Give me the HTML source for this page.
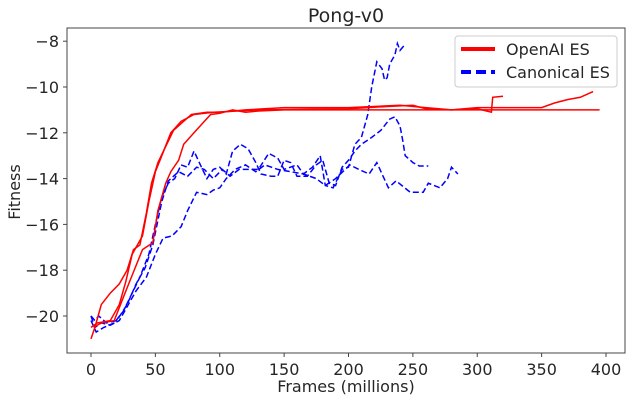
<!DOCTYPE html>
<html><head><meta charset="utf-8"><style>
html,body{margin:0;padding:0;background:#fff;}
svg text{font-family:"DejaVu Sans","Liberation Sans",sans-serif;fill:#262626;}
</style></head><body>
<svg id="chart" width="632" height="402" viewBox="0 0 632 402">
<g id="grid"></g>
<g id="series"></g>
<rect x="67" y="28" width="558" height="325" fill="none" stroke="#444" stroke-width="1"/>
<g id="axes"></g>
<text x="346" y="22" text-anchor="middle" font-size="19">Pong-v0</text>
<text x="346" y="392" text-anchor="middle" font-size="16">Frames (millions)</text>
<text transform="translate(20,192) rotate(-90)" text-anchor="middle" font-size="16">Fitness</text>
<g>
<rect x="455" y="36" width="162" height="51" rx="3" fill="#fff" fill-opacity="0.8" stroke="#ccc"/>
<line x1="461" y1="49" x2="495" y2="49" stroke="#ff0000" stroke-width="4"/>
<text x="506" y="55" font-size="16">OpenAI ES</text>
<line x1="461" y1="72" x2="495" y2="72" stroke="#0000ff" stroke-width="4" stroke-dasharray="10,5"/>
<text x="506" y="78" font-size="16">Canonical ES</text>
</g>
</svg>
<script>
const xTicks=[0,50,100,150,200,250,300,350,400];
const yTicks=[-20,-18,-16,-14,-12,-10,-8];
const red1=[[0,-21],[3,-20.5],[8,-19.5],[15,-19],[22,-18.6],[28,-18],[33,-17.1],[38,-16.9],[43,-15.5],[47,-14.2],[52,-13.3],[58,-12.6],[64,-11.9],[70,-11.6],[78,-11.2],[90,-11.1],[100,-11.1],[120,-11.0],[150,-10.9],[200,-10.9],[240,-10.8],[260,-10.9],[280,-11.0],[300,-10.95],[311,-11.1],[312,-10.45],[320,-10.4]];
const red2=[[0,-20.5],[5,-20.3],[15,-20.2],[22,-19.5],[27,-18.5],[32,-17.3],[40,-16.5],[45,-15],[50,-13.7],[55,-13.0],[62,-12.0],[70,-11.5],[80,-11.2],[95,-11.1],[130,-11.0],[200,-10.95],[230,-10.85],[250,-10.8],[260,-10.95],[280,-11.0],[300,-10.9],[330,-10.9],[350,-10.9],[360,-10.7],[370,-10.55],[380,-10.45],[390,-10.2]];
const red3=[[2,-20.5],[8,-20.3],[18,-20.2],[25,-19.2],[30,-18.5],[40,-17.1],[48,-16.8],[52,-15.4],[58,-14.2],[62,-13.7],[68,-13.2],[72,-12.5],[80,-12.0],[88,-11.5],[93,-11.2],[100,-11.15],[110,-11.0],[120,-11.1],[130,-11.05],[150,-11.0],[200,-11.0],[300,-11.0],[395,-11.0]];
const blue1=[[0,-20],[3,-20.5],[8,-20.3],[15,-20.4],[22,-20.2],[28,-19.6],[35,-18.9],[43,-18.3],[50,-17.3],[56,-16.6],[63,-16.5],[70,-16.1],[75,-15.4],[82,-14.6],[90,-14.7],[95,-14.5],[100,-14.4],[105,-14.0],[112,-13.6],[120,-13.4],[128,-13.7],[135,-13.4],[145,-13.6],[155,-13.7],[165,-13.8],[175,-14.0],[182,-14.3],[190,-14.0],[201,-13.4],[208,-13.6],[216,-13.8],[222,-13.3],[231,-14.4],[237,-14.1],[248,-14.6],[258,-14.6],[262,-14.2],[271,-14.4],[277,-14.0],[280,-13.5],[285,-13.8]];
const blue2=[[0,-20.2],[4,-20.7],[10,-20.5],[18,-20.3],[25,-19.8],[32,-19],[38,-18.3],[45,-17.3],[50,-16.0],[55,-14.8],[60,-14.2],[65,-14.0],[70,-13.4],[75,-13.5],[80,-12.8],[85,-13.4],[90,-14.0],[95,-13.6],[100,-13.5],[105,-13.8],[110,-12.8],[116,-12.5],[122,-12.7],[128,-13.3],[132,-13.8],[140,-13.9],[145,-13.9],[150,-13.2],[155,-13.3],[160,-13.9],[168,-13.9],[175,-13.4],[180,-13.2],[185,-14.2],[190,-14.3],[195,-13.5],[200,-13.2],[205,-12.8],[210,-12.5],[218,-12.2],[225,-11.9],[232,-11.4],[236,-11.3],[240,-11.7],[242,-12.3],[244,-13.0],[250,-13.3],[255,-13.45],[262,-13.45]];
const blue3=[[0,-20],[3,-20.2],[6,-20.0],[12,-20.3],[20,-20.2],[28,-19.5],[35,-18.6],[42,-17.9],[48,-16.9],[55,-15.0],[60,-14.1],[68,-13.7],[75,-13.9],[82,-13.5],[88,-13.6],[95,-14.0],[102,-13.6],[108,-13.9],[115,-13.6],[122,-13.6],[130,-13.6],[138,-12.9],[145,-13.1],[150,-13.6],[160,-13.4],[165,-13.8],[172,-13.5],[178,-13.0],[182,-14.3],[188,-14.4],[195,-13.6],[200,-13.5],[205,-12.5],[210,-12.2],[215,-11.2],[218,-10.0],[222,-8.9],[226,-9.2],[228,-9.7],[230,-9.6],[232,-9.0],[236,-8.6],[238,-8.1],[240,-8.4],[243,-8.2]];
const NS='http://www.w3.org/2000/svg';
function sx(v){return 91+v*1.2875;}
function sy(v){return 316-(v+20)*22.9;}
const axes=document.getElementById('axes');
xTicks.forEach(t=>{
  const l=document.createElementNS(NS,'line');
  l.setAttribute('x1',sx(t));l.setAttribute('x2',sx(t));l.setAttribute('y1',353);l.setAttribute('y2',357);
  l.setAttribute('stroke','#444');
  
  
  axes.appendChild(l);
  const tx=document.createElementNS(NS,'text');
  tx.setAttribute('x',sx(t));tx.setAttribute('y',375);tx.setAttribute('text-anchor','middle');tx.setAttribute('font-size','16');
  tx.textContent=t;
  
  
  axes.appendChild(tx);
});
yTicks.forEach(t=>{
  const l=document.createElementNS(NS,'line');
  l.setAttribute('x1',63);l.setAttribute('x2',67);l.setAttribute('y1',sy(t));l.setAttribute('y2',sy(t));
  l.setAttribute('stroke','#444');
  
  
  axes.appendChild(l);
  const tx=document.createElementNS(NS,'text');
  tx.setAttribute('x',59);tx.setAttribute('y',sy(t)+6);tx.setAttribute('text-anchor','end');tx.setAttribute('font-size','16');
  tx.textContent='\u2212'+Math.abs(t);
  
  
  axes.appendChild(tx);
});
const g=document.getElementById('series');
function draw(data,color,dash,name){
  const p=document.createElementNS(NS,'polyline');
  p.setAttribute('points',data.map(d=>sx(d[0]).toFixed(1)+','+sy(d[1]).toFixed(1)).join(' '));
  p.setAttribute('fill','none');p.setAttribute('stroke',color);p.setAttribute('stroke-width','1.5');
  if(dash)p.setAttribute('stroke-dasharray','6,3');
  
  
  g.appendChild(p);
}
draw(blue1,'#0000ff',true,'canonical-es-run-1');
draw(blue2,'#0000ff',true,'canonical-es-run-2');
draw(blue3,'#0000ff',true,'canonical-es-run-3');
draw(red1,'#ff0000',false,'openai-es-run-1');
draw(red2,'#ff0000',false,'openai-es-run-2');
draw(red3,'#ff0000',false,'openai-es-run-3');
</script>
</body></html>
